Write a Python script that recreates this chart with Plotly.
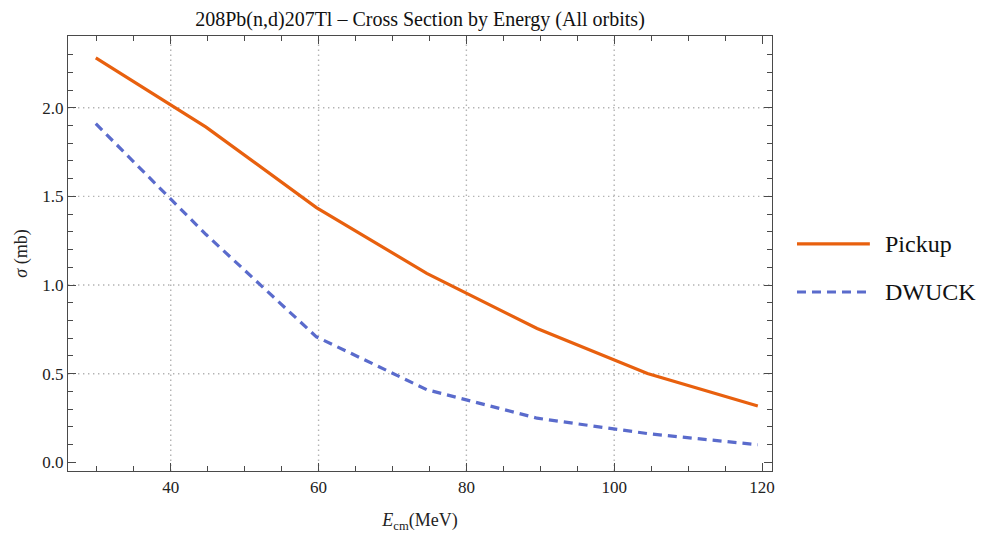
import plotly.graph_objects as go

# Centre-of-mass energies (MeV)
energy_cm = [29.86, 44.78, 59.71, 74.64, 89.57, 104.50, 119.43]

# Cross sections (mb)
sigma_pickup = [2.281, 1.891, 1.437, 1.066, 0.755, 0.501, 0.318]
sigma_dwuck = [1.910, 1.285, 0.708, 0.410, 0.249, 0.162, 0.099]

series_names = ["Pickup", "DWUCK"]
series_colors = ["#E8600E", "#5A6BCC"]
series_dash = ["solid", "9px,6px"]

grid_x = [40, 60, 80, 100]
grid_y = [0.5, 1.0, 1.5, 2.0]

SERIF = "Liberation Serif"
FRAME = "#4a4a4a"
GRID = dict(color="#b3b3b3", width=1.4, dash="1.4px,3.6px")

fig = go.Figure()
for name, ys, col, dash in zip(series_names, [sigma_pickup, sigma_dwuck],
                               series_colors, series_dash):
    fig.add_trace(go.Scatter(
        x=energy_cm, y=ys, mode="lines", name=name,
        line=dict(color=col, width=3.2, dash=dash),
        showlegend=False,
    ))

# Dotted grid lines at the major ticks
shapes = []
for gx in grid_x:
    shapes.append(dict(type="line", xref="x", yref="paper", x0=gx, x1=gx, y0=0, y1=1,
                       line=GRID, layer="below"))
for gy in grid_y:
    shapes.append(dict(type="line", xref="paper", yref="y", x0=0, x1=1, y0=gy, y1=gy,
                       line=GRID, layer="below"))

# Legend drawn beside the frame
legend_y = [0.522, 0.4115]
annotations = []
for name, col, dash, ly in zip(series_names, series_colors, series_dash, legend_y):
    shapes.append(dict(type="line", xref="paper", yref="paper", x0=1.0355, x1=1.139,
                       y0=ly, y1=ly, line=dict(color=col, width=3.2, dash=dash)))
    annotations.append(dict(xref="paper", yref="paper", x=1.158, y=ly, text=name,
                            showarrow=False, xanchor="left", yanchor="middle",
                            font=dict(family=SERIF, size=24, color="#111")))

axis_common = dict(
    showline=True, linecolor=FRAME, linewidth=1.3, mirror="allticks",
    ticks="inside", ticklen=8, tickwidth=1.1, tickcolor=FRAME,
    showgrid=False, zeroline=False, automargin=False,
    tickfont=dict(family=SERIF, size=17, color="#222"),
)

fig.update_layout(
    width=983, height=533,
    margin=dict(l=68, r=211, t=36, b=62),
    paper_bgcolor="white", plot_bgcolor="white",
    font=dict(family=SERIF, color="#222"),
    title=dict(text="208Pb(n,d)207Tl – Cross Section by Energy (All orbits)",
               x=(68 + 772) / 2 / 983, xanchor="center", y=0.965, yanchor="middle",
               font=dict(family=SERIF, size=20, color="#111")),
    xaxis=dict(range=[26.1, 121.35], tickvals=[40, 60, 80, 100, 120],
               minor=dict(dtick=5, tick0=0, ticks="inside", ticklen=5, tickcolor=FRAME),
               title=dict(text="<i>E</i><sub>cm</sub>(MeV)", standoff=19,
                          font=dict(family=SERIF, size=18, color="#222")),
               **axis_common),
    yaxis=dict(range=[-0.049, 2.405], tickvals=[0, 0.5, 1.0, 1.5, 2.0], tickformat=".1f",
               minor=dict(dtick=0.1, tick0=0, ticks="inside", ticklen=5, tickcolor=FRAME),
               title=dict(text="<i>σ</i> (mb)", standoff=9,
                          font=dict(family=SERIF, size=18, color="#222")),
               **axis_common),
    shapes=shapes,
    annotations=annotations,
)

fig.write_html("out.html")
